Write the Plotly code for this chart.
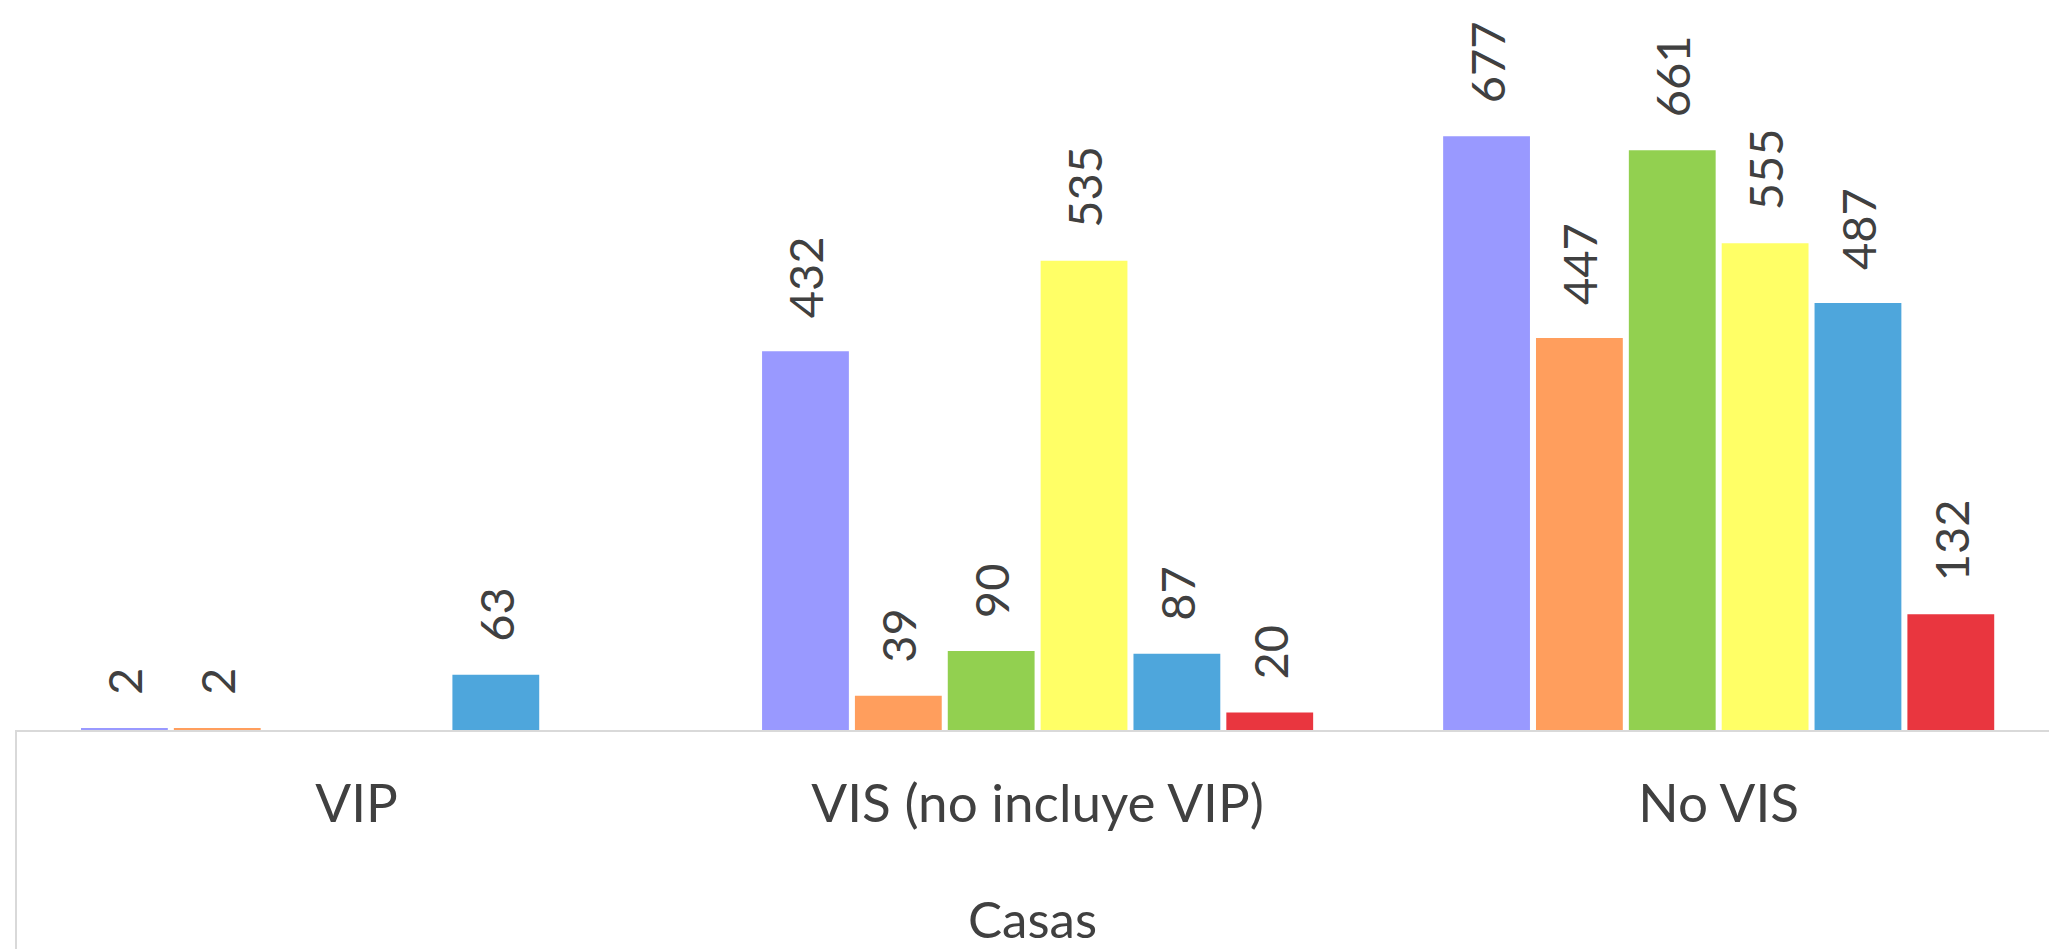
import plotly.graph_objects as go

categories = ["VIP", "VIS (no incluye VIP)", "No VIS"]
series_names = ["Serie 1", "Serie 2", "Serie 3", "Serie 4", "Serie 5", "Serie 6"]
s1 = [2, 432, 677]
s2 = [2, 39, 447]
s3 = [None, 90, 661]
s4 = [None, 535, 555]
s5 = [63, 87, 487]
s6 = [None, 20, 132]
series_values = [s1, s2, s3, s4, s5, s6]
colors = ["#9999FF", "#FF9E5D", "#92D050", "#FFFF66", "#4EA6DC", "#E9363F"]
axis_title = "Casas"

FONT = "Lato"
TXT = "#404040"

fig = go.Figure()
for name, vals, col in zip(series_names, series_values, colors):
    fig.add_trace(go.Bar(
        x=categories, y=vals, name=name,
        marker=dict(color=col, line=dict(width=0)),
        texttemplate="\u00a0\u00a0\u2009%{y}",
        textposition="outside",
        textangle=-90,
        constraintext="none",
        cliponaxis=False,
        textfont=dict(family=FONT, size=47, color=TXT),
        hoverinfo="x+y+name",
    ))

fig.update_layout(
    width=2049, height=949,
    margin=dict(l=16, r=0, t=0, b=219, autoexpand=False),
    paper_bgcolor="white", plot_bgcolor="white",
    barmode="group", bargap=0.182, bargroupgap=0.065,
    showlegend=False,
    font=dict(family=FONT, color=TXT),
    xaxis=dict(
        type="category", range=[-0.5, 2.485], automargin=False,
        showline=True, linecolor="#D9D9D9", linewidth=2,
        showgrid=False, zeroline=False, ticks="",
        tickfont=dict(family=FONT, size=53, color=TXT),
        ticklabelstandoff=26,
        title=dict(text=axis_title, font=dict(family=FONT, size=51, color=TXT), standoff=100),
    ),
    yaxis=dict(range=[0, 832.4], visible=False, showgrid=False, zeroline=False, automargin=False),
    shapes=[dict(type="line", xref="paper", yref="paper", x0=0, x1=0, y0=0, y1=-0.31,
                 line=dict(color="#D9D9D9", width=2))],
)

fig.write_html("out.html", config={"displayModeBar": False},
               post_script="document.body.style.margin='0';document.body.style.overflow='hidden';")
